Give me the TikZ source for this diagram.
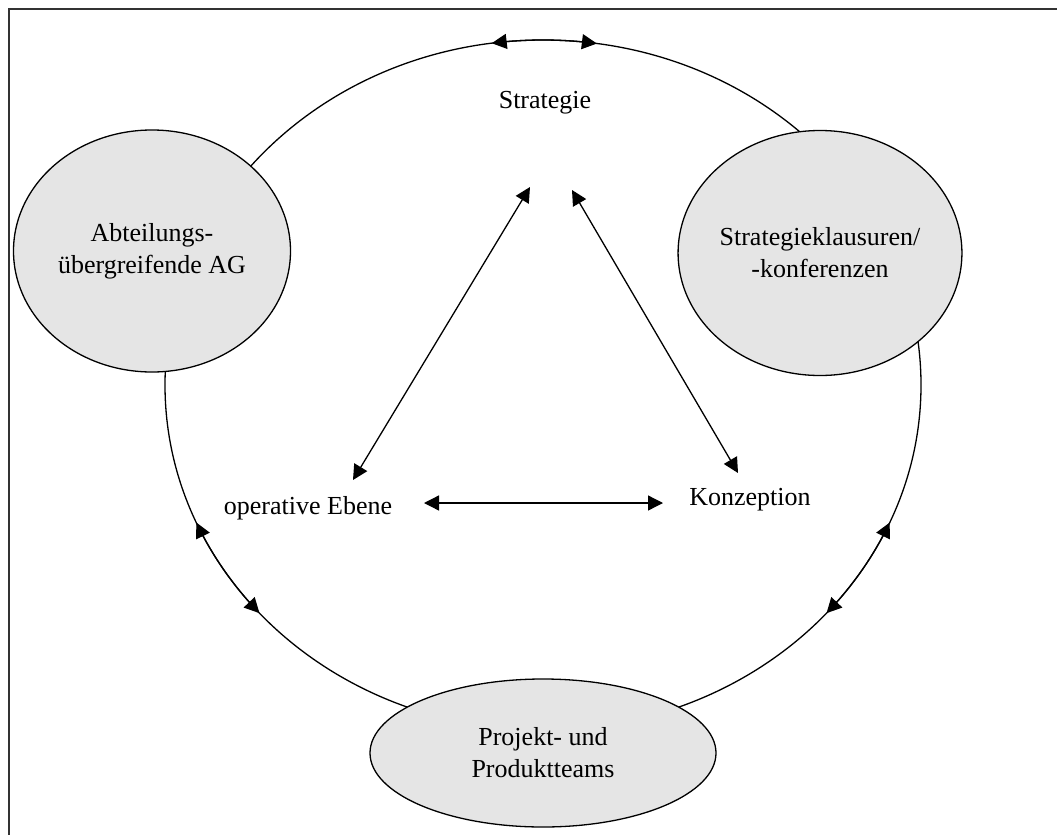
\documentclass[tikz,border=0pt]{standalone}
\usepackage{fontspec}
\setmainfont{Liberation Serif}
\usetikzlibrary{arrows.meta,shapes.geometric}
\begin{document}
\begin{tikzpicture}[x=1pt,y=-1pt,line width=1.3pt,
  every node/.style={font=\fontsize{26}{32}\selectfont},
  blob/.style={ellipse,draw=black,fill=black!10,inner sep=0pt,align=center},
  label/.style={inner sep=2pt},
  link/.style={{Triangle[length=15pt,width=15pt]}-{Triangle[length=15pt,width=15pt]}}]
\useasboundingbox (0,0) rectangle (1057,835);
% frame (only top and left edges visible)
\draw[line width=1.6pt,black!80] (1057,9) -- (9,9) -- (9,835);
% big ring
\draw (543,385) ellipse [x radius=378pt, y radius=345pt];
% nodes
\node[blob,minimum width=277pt,minimum height=242pt] (abt) at (152,251) {Abteilungs-\\übergreifende AG};
\node[blob,minimum width=255pt,minimum height=245pt] (klaus) at (820,253) {Strategieklausuren/\\-konferenzen};
\node[blob,minimum width=346pt,minimum height=148pt] (proj) at (543,753) {Projekt- und\\Produktteams};
\node[label] (str) at (545,103) {Strategie};
\node[label] (ope) at (308,508) {operative Ebene};
\node[label] (kon) at (750,500) {Konzeption};
% ring arrows
\draw[link] plot[domain=-97.8:-81.8,samples=20] ({543+378*cos(\x)},{385+345*sin(\x)});
\draw[link] plot[domain=23.5:41.4,samples=20] ({543+378*cos(\x)},{385+345*sin(\x)});
\draw[link] plot[domain=156.5:138.6,samples=20] ({543+378*cos(\x)},{385+345*sin(\x)});
% triangle arrows
\coordinate (sl) at (530,187);
\coordinate (sr) at (572,190);
\coordinate (ou) at (353,480);
\coordinate (or) at (424,503);
\coordinate (kl) at (663,503);
\coordinate (ku) at (738,473);
\draw[link] (sl) -- (ou);
\draw[link] (sr) -- (ku);
\draw[link] (or) -- (kl);
\end{tikzpicture}
\end{document}
